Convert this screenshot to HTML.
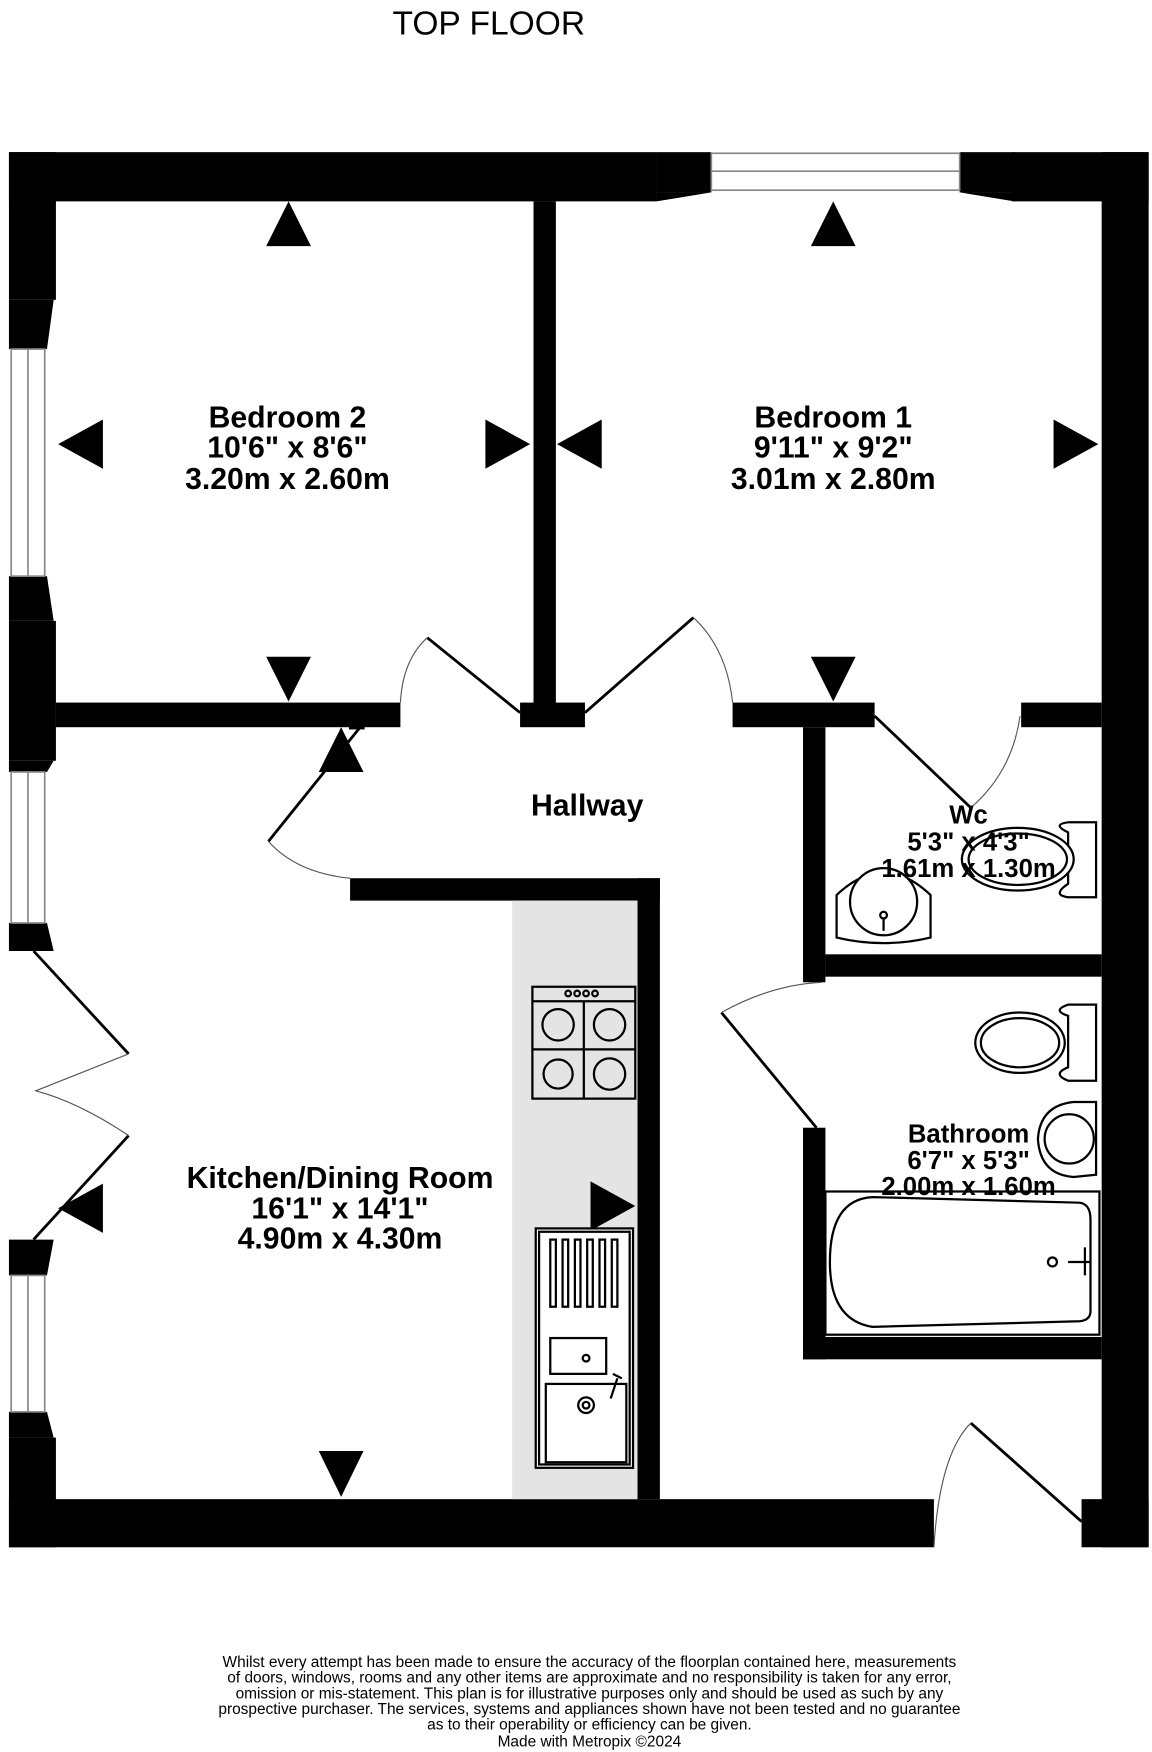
<!DOCTYPE html>
<html><head><meta charset="utf-8"><style>
html,body{margin:0;padding:0;background:#fff;}
svg{display:block;}
text{font-family:"Liberation Sans",sans-serif;}
.b{font-weight:bold;font-size:27px;text-anchor:middle;}
.s{font-weight:bold;font-size:23px;text-anchor:middle;}
.f{font-size:13.8px;text-anchor:middle;}
</style></head><body>
<svg width="1152" height="1752" viewBox="0 0 1030 1566" preserveAspectRatio="none" xmlns="http://www.w3.org/2000/svg">
<rect width="1030" height="1566" fill="#fff"/>
<text x="437" y="31" style="font-size:30px;text-anchor:middle">TOP FLOOR</text>
<g fill="#000">
<rect x="8" y="136" width="579" height="44"/>
<rect x="587" y="136" width="49" height="36"/>
<polygon points="587,172 636,172 587,180"/>
<rect x="858" y="136" width="49" height="36"/>
<polygon points="858,172 907,172 907,180"/>
<rect x="905" y="136" width="122" height="44"/>
<rect x="985" y="136" width="42" height="1247"/>
<rect x="8" y="136" width="42" height="132"/>
<polygon points="8,268 48,268 42,312 8,312"/>
<polygon points="8,515 42,515 48,555 8,555"/>
<rect x="8" y="555" width="42" height="125"/>
<polygon points="8,680 48,680 42,690 8,690"/>
<polygon points="8,825 42,825 48,850 8,850"/>
<polygon points="8,1108 48,1108 42,1140 8,1140"/>
<polygon points="8,1262 42,1262 48,1285 8,1285"/>
<rect x="8" y="1285" width="42" height="98"/>
<rect x="8" y="1340" width="827" height="43"/>
<rect x="967" y="1340" width="60" height="43"/>
<rect x="477" y="180" width="20" height="460"/>
<rect x="50" y="628" width="308" height="22"/>
<rect x="465" y="628" width="58" height="22"/>
<rect x="655" y="628" width="127" height="22"/>
<rect x="913" y="628" width="72" height="22"/>
<rect x="718" y="650" width="20" height="228"/>
<rect x="738" y="853" width="247" height="20"/>
<rect x="718" y="1008" width="20" height="207"/>
<rect x="718" y="1195" width="267" height="20"/>
<rect x="313" y="785" width="277" height="20"/>
<rect x="570" y="785" width="20" height="555"/>
</g>
<g fill="#fff" stroke="#888" stroke-width="1.5">
<rect x="636" y="137" width="222" height="33"/>
<line x1="636" y1="153" x2="858" y2="153"/>
<rect x="10" y="312" width="30" height="203"/>
<line x1="25" y1="312" x2="25" y2="515"/>
<rect x="10" y="690" width="30" height="135"/>
<line x1="25" y1="690" x2="25" y2="825"/>
<rect x="10" y="1140" width="30" height="122"/>
<line x1="25" y1="1140" x2="25" y2="1262"/>
</g>
<rect x="458" y="805" width="112" height="535" fill="#e4e4e4"/>
<g fill="none" stroke="#000" stroke-width="2.5">
<line x1="382" y1="570" x2="465" y2="637"/>
<line x1="620" y1="552" x2="523" y2="637"/>
<line x1="782" y1="640" x2="868" y2="722"/>
<line x1="322" y1="650" x2="240" y2="752"/>
<line x1="30" y1="850" x2="115" y2="942"/>
<line x1="30" y1="1108" x2="115" y2="1015"/>
<line x1="730" y1="1008" x2="645" y2="905"/>
<line x1="967" y1="1360" x2="868" y2="1272"/>
</g>
<g fill="none" stroke="#555" stroke-width="1">
<path d="M382,570 Q360,590 358,628"/>
<path d="M620,552 Q650,580 655,628"/>
<path d="M868,722 Q905,690 912,640"/>
<path d="M240,752 Q265,780 313,785"/>
<path d="M115,942 Q70,960 32,975 Q70,985 115,1015"/>
<path d="M645,905 Q690,880 735,878"/>
<path d="M868,1272 Q840,1300 835,1383"/>
</g>
<rect x="312" y="642" width="14" height="10" fill="#000"/>
<g fill="#000">
<polygon points="258,180 238,220 278,220"/>
<polygon points="258,627 238,587 278,587"/>
<polygon points="52,397 92,375 92,419"/>
<polygon points="474,397 434,375 434,419"/>
<polygon points="745,180 725,220 765,220"/>
<polygon points="745,627 725,587 765,587"/>
<polygon points="498,397 538,375 538,419"/>
<polygon points="982,397 942,375 942,419"/>
<polygon points="305,650 285,690 325,690"/>
<polygon points="305,1338 285,1297 325,1297"/>
<polygon points="52,1080 92,1058 92,1102"/>
<polygon points="568,1078 528,1056 528,1100"/>
</g>
<g fill="none" stroke="#000" stroke-width="2">
<rect x="476" y="882" width="92" height="100"/>
<line x1="476" y1="895" x2="568" y2="895"/>
<line x1="522" y1="895" x2="522" y2="982"/>
<line x1="476" y1="938" x2="568" y2="938"/>
<circle cx="499" cy="916" r="14"/><circle cx="545" cy="916" r="14"/>
<circle cx="499" cy="960" r="13"/><circle cx="545" cy="960" r="14"/>
<circle cx="508" cy="888" r="2.5"/><circle cx="516" cy="888" r="2.5"/><circle cx="524" cy="888" r="2.5"/><circle cx="532" cy="888" r="2.5"/>
<rect x="479" y="1098" width="87" height="214" fill="#fff"/>
<rect x="482" y="1101" width="81" height="208"/>
<rect x="492" y="1108" width="5" height="60"/><rect x="503" y="1108" width="5" height="60"/><rect x="514" y="1108" width="5" height="60"/><rect x="525" y="1108" width="5" height="60"/><rect x="536" y="1108" width="5" height="60"/><rect x="547" y="1108" width="5" height="60"/>
<rect x="492" y="1196" width="50" height="32"/>
<rect x="488" y="1237" width="72" height="70"/>
<circle cx="524" cy="1214" r="3"/>
<circle cx="524" cy="1256" r="7"/><circle cx="524" cy="1256" r="3"/>
<path d="M546,1250 L552,1232 M548,1228 L556,1232"/>
</g>
<g fill="#fff" stroke="#000" stroke-width="2">
<path d="M955,744 Q940,737 955,735 L980,735 L980,802 L955,802 Q940,800 955,790 Z"/>
<ellipse cx="910" cy="768" rx="50" ry="28"/>
<ellipse cx="910" cy="768" rx="44" ry="23"/>
<path d="M748,800 Q790,760 832,800 L832,838 Q790,848 748,838 Z"/>
<ellipse cx="790" cy="806" rx="30" ry="30"/>
<circle cx="790" cy="818" r="3"/>
<line x1="790" y1="820" x2="790" y2="832"/>
<path d="M955,908 Q940,903 955,898 L980,898 L980,966 L955,966 Q940,960 955,954 Z"/>
<ellipse cx="912" cy="932" rx="40" ry="27"/>
<ellipse cx="912" cy="932" rx="35" ry="22"/>
<path d="M960,985 L980,985 L980,1050 L960,1052 Q930,1050 928,1018 Q930,988 960,985 Z"/>
<circle cx="956" cy="1018" r="22"/>
<rect x="738" y="1065" width="245" height="128"/>
<path d="M780,1070 L965,1075 Q975,1076 975,1090 L975,1172 Q975,1180 965,1181 L780,1186 Q742,1180 742,1128 Q742,1072 780,1070 Z"/>
<circle cx="941" cy="1128" r="4"/>
<path d="M955,1128 L975,1128 M970,1115 L970,1140"/>
</g>
<text class="b" x="257" y="382">Bedroom 2</text>
<text class="b" x="257" y="409">10'6"  x 8'6"</text>
<text class="b" x="257" y="437">3.20m  x 2.60m</text>
<text class="b" x="745" y="382">Bedroom 1</text>
<text class="b" x="745" y="409">9'11"  x 9'2"</text>
<text class="b" x="745" y="437">3.01m  x 2.80m</text>
<text class="b" x="525" y="729">Hallway</text>
<text class="s" x="866" y="736">Wc</text>
<text class="s" x="866" y="760">5'3"  x 4'3"</text>
<text class="s" x="866" y="784">1.61m  x 1.30m</text>
<text class="s" x="866" y="1021">Bathroom</text>
<text class="s" x="866" y="1045">6'7"  x 5'3"</text>
<text class="s" x="866" y="1068">2.00m  x 1.60m</text>
<text class="b" x="304" y="1062">Kitchen/Dining Room</text>
<text class="b" x="304" y="1089">16'1"  x 14'1"</text>
<text class="b" x="304" y="1116">4.90m  x 4.30m</text>
<text class="f" x="527" y="1490">Whilst every attempt has been made to ensure the accuracy of the floorplan contained here, measurements</text>
<text class="f" x="527" y="1504">of doors, windows, rooms and any other items are approximate and no responsibility is taken for any error,</text>
<text class="f" x="527" y="1518">omission or mis-statement. This plan is for illustrative purposes only and should be used as such by any</text>
<text class="f" x="527" y="1532">prospective purchaser. The services, systems and appliances shown have not been tested and no guarantee</text>
<text class="f" x="527" y="1546">as to their operability or efficiency can be given.</text>
<text class="f" x="527" y="1561">Made with Metropix ©2024</text>
</svg>
</body></html>
